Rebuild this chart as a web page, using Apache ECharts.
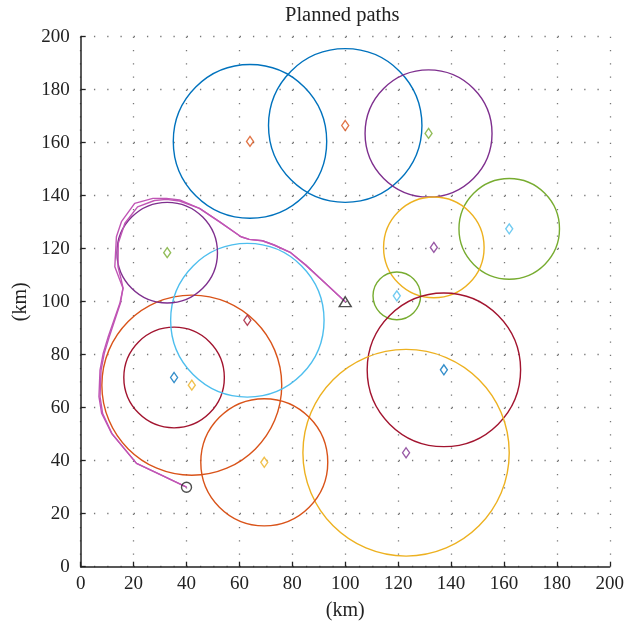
<!DOCTYPE html>
<html>
<head>
<meta charset="utf-8">
<script src="https://cdn.jsdelivr.net/npm/echarts@6/dist/echarts.min.js"></script>
<style>html,body{margin:0;padding:0;background:#fff}#c{width:627px;height:626px}</style>
</head>
<body>
<div id="c"></div>
<script>
// ---- data ----
const circleX = [64, 100, 131.5, 162, 133.5, 119.5, 137.3, 123, 69.4, 42, 35.3, 63, 32.7];
const circleY = [160.5, 166.5, 163.5, 127.5, 120.5, 102.2, 74.3, 43, 39.4, 68.5, 71.4, 93, 118.5];
const circleR = [29, 29, 24, 19, 19, 9, 29, 39, 24, 34, 19, 29, 19];
const circleColorIdx = [0, 0, 3, 4, 2, 4, 6, 2, 1, 1, 6, 5, 3];

const pathAX = [40, 30.5, 21.1, 11.7, 7.9, 6.9, 7.3, 8.5, 10.4, 12.6, 14.8, 16.0, 14.8, 12.9, 13.5, 15.4, 20.4, 27.3, 32.4, 37.4, 44.9, 52.4, 60.6, 63.7, 68.7, 73.1, 79.4, 85.1, 92.6, 100];
const pathAY = [30, 34.6, 39.0, 50.3, 57.9, 64.2, 74.2, 80.5, 86.8, 93.1, 99.4, 105.1, 108.2, 113.2, 124.5, 130.2, 137.1, 139.0, 139.0, 138.4, 135.2, 130.2, 124.5, 123.5, 123.0, 121.4, 118.5, 113.8, 106.9, 100];
const pathBX = [40, 30.5, 21.1, 11.9, 8.3, 7.3, 7.7, 8.9, 10.8, 12.9, 15.0, 16.0, 15.3, 14.1, 14.2, 16.7, 21.5, 27.9, 32.4, 37.4, 44.9, 52.4, 60.6, 63.7, 68.7, 73.1, 79.4, 85.1, 92.6, 100];
const pathBY = [30, 34.6, 39.0, 50.1, 57.8, 64.2, 74.2, 80.5, 86.8, 93.1, 99.4, 105.1, 108.4, 113.2, 122.0, 129.6, 135.8, 138.2, 138.6, 138.0, 135.2, 130.2, 124.5, 123.5, 123.0, 121.4, 118.5, 113.8, 106.9, 100];

const startPoint = [40, 30];
const goalPoint = [100, 100];

const axisTicks = [0, 20, 40, 60, 80, 100, 120, 140, 160, 180, 200];
const titleText = 'Planned paths';
const xName = '(km)';
const yName = '(km)';

// ---- style ----
const palette = ['#0072BD', '#D95319', '#EDB120', '#7E2F8E', '#77AC30', '#4DBEEE', '#A2142F'];
const FONT = 'Liberation Serif';

const circleData = circleX.map((x, i) => [x, circleY[i], circleR[i], circleColorIdx[i]]);
const markerData = circleX.map((x, i) => ({
  value: [x, circleY[i]],
  itemStyle: { color: '#fff', borderColor: palette[(circleColorIdx[i] + 1) % palette.length], borderWidth: 1.4 }
}));

const chart = echarts.init(document.getElementById('c'), null, { renderer: 'canvas' });

const axisCommon = (name) => ({
  type: 'value', min: axisTicks[0], max: axisTicks[axisTicks.length - 1], interval: axisTicks[1] - axisTicks[0],
  name: name, nameLocation: 'middle',
  nameTextStyle: { fontFamily: FONT, fontSize: 20, color: '#222' },
  axisLine: { show: true, onZero: false, lineStyle: { color: '#222', width: 1.5 } },
  axisTick: { show: true, inside: true, length: 5, lineStyle: { color: '#222', width: 1.3 } },
  axisLabel: { fontFamily: FONT, fontSize: 19, color: '#222' },
  splitLine: { show: true, lineStyle: { color: '#777', width: 1.3, type: [1.3, 11.95], dashOffset: 0 } }
});

const xA = axisCommon(xName); xA.nameGap = 34; xA.axisLabel.margin = 8;
const yA = axisCommon(yName); yA.nameGap = 49; yA.nameRotate = 90; yA.axisLabel.margin = 11;

chart.setOption({
  animation: false,
  backgroundColor: '#fff',
  grid: { left: 80.7, right: 15, top: 36.7, bottom: 59.3, containLabel: false },
  graphic: [{
    type: 'text', left: 285, top: 5,
    style: { text: titleText, font: '20.5px "Liberation Serif"', fill: '#222' }
  }],
  xAxis: xA,
  yAxis: yA,
  series: [
    {
      type: 'custom', data: circleData, clip: false, z: 2,
      renderItem: function (params, api) {
        const c = api.coord([api.value(0), api.value(1)]);
        const s = api.size([api.value(2), api.value(2)]);
        return {
          type: 'ellipse',
          shape: { cx: c[0], cy: c[1], rx: s[0], ry: s[1] },
          style: { fill: 'none', stroke: palette[api.value(3)], lineWidth: 1.4 }
        };
      }
    },
    {
      type: 'line', data: pathAX.map((x, i) => [x, pathAY[i]]), showSymbol: false, z: 3,
      lineStyle: { color: '#C055B5', width: 1.4 }
    },
    {
      type: 'line', data: pathBX.map((x, i) => [x, pathBY[i]]), showSymbol: false, z: 3,
      lineStyle: { color: '#C055B5', width: 1.4 }
    },
    {
      type: 'scatter', data: markerData, symbol: 'diamond', symbolSize: [7, 10], z: 4
    },
    {
      type: 'scatter', data: [startPoint], symbol: 'circle', symbolSize: 10, z: 5,
      itemStyle: { color: 'rgba(255,255,255,0)', borderColor: '#222', borderWidth: 1.4 }
    },
    {
      type: 'scatter', data: [goalPoint], symbol: 'triangle', symbolSize: [12, 10], z: 5,
      itemStyle: { color: 'rgba(255,255,255,0)', borderColor: '#222', borderWidth: 1.4 }
    }
  ]
});
</script>
</body>
</html>
